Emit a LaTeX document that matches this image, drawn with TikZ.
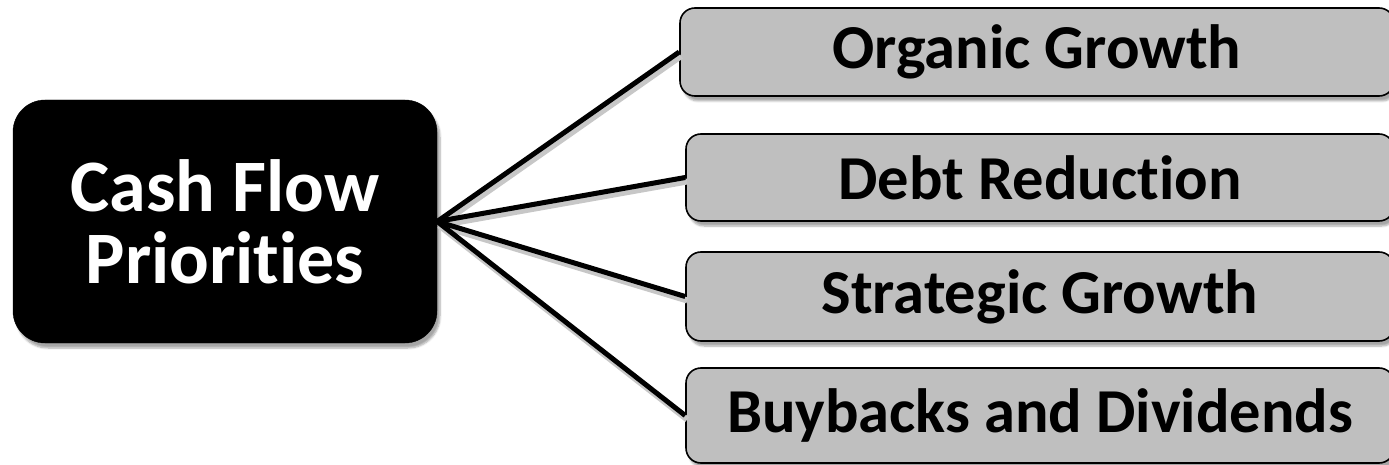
\documentclass[tikz,border=0pt]{standalone}
\usepackage{fontspec}
\setmainfont[Ligatures=CommonOff]{Carlito}
\usetikzlibrary{shadows.blur}
\definecolor{boxgray}{RGB}{191,191,191}
\tikzset{
  hub/.style={fill=black, draw=black, rounded corners=32pt, text=white,
    font=\fontsize{74}{72}\selectfont\bfseries, align=center,
    minimum width=424pt, minimum height=243pt, inner sep=0pt,
    blur shadow={shadow blur steps=6, shadow xshift=3pt, shadow yshift=-5pt, shadow opacity=35}},
  leaf/.style={fill=boxgray, draw=black, line width=1.6pt, rounded corners=15pt,
    font=\fontsize{62.5}{64}\selectfont\bfseries, inner sep=0pt,
    blur shadow={shadow blur steps=6, shadow xshift=3pt, shadow yshift=-5pt, shadow opacity=35}},
  link/.style={draw=black, line width=5pt,
    preaction={draw=black!22, line width=6pt, transform canvas={shift={(2pt,-4pt)}}}}
}
\begin{document}
\begin{tikzpicture}[x=1pt, y=-1pt]
\useasboundingbox (0,0) rectangle (1389,465);
\node[leaf, minimum width=714pt, minimum height=88pt] (og) at (1037,52) {Organic Growth};
\node[leaf, minimum width=708pt, minimum height=87pt] (dr) at (1040,177.5) {Debt Reduction};
\node[leaf, minimum width=708pt, minimum height=89pt] (sg) at (1040,296.5) {Strategic Growth};
\node[leaf, minimum width=708pt, minimum height=95pt] (bd) at (1040,415.5) {Buybacks and Dividends};
\node[hub] (cf) at (225,221.5) {Cash Flow\\Priorities};
\draw[link] (cf.east) -- (og.west);
\draw[link] (cf.east) -- (dr.west);
\draw[link] (cf.east) -- (sg.west);
\draw[link] (cf.east) -- (bd.west);
\end{tikzpicture}
\end{document}
